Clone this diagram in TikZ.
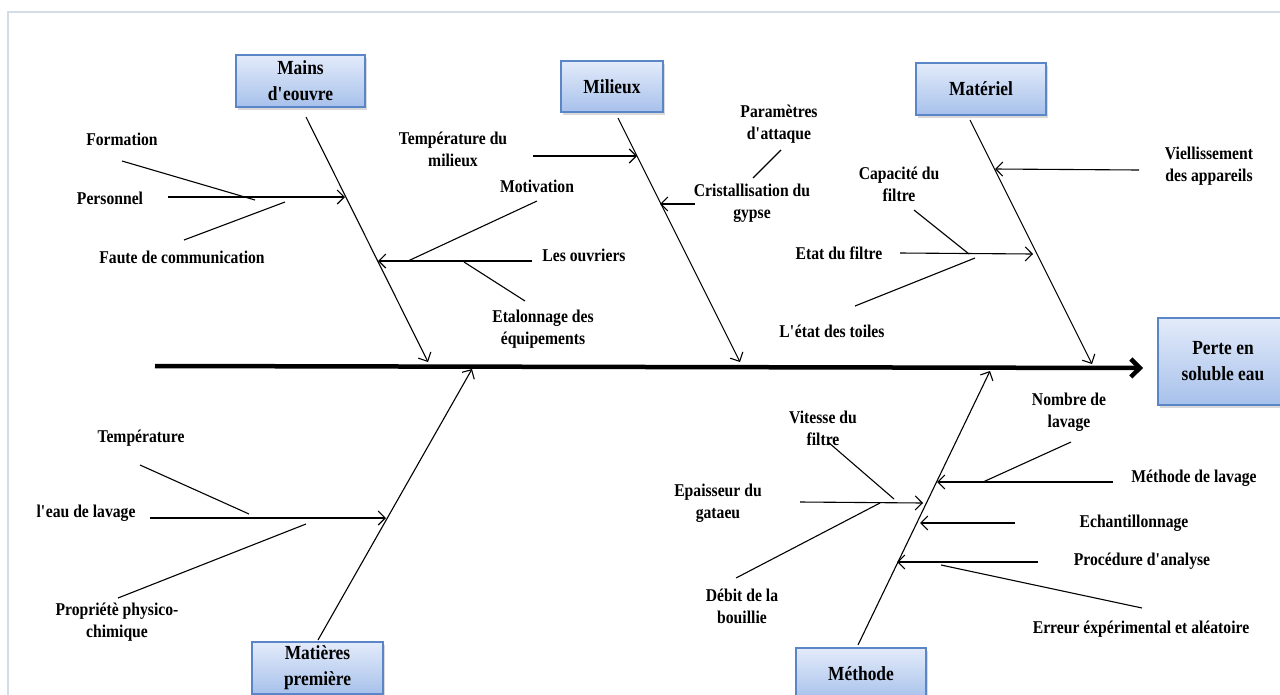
\documentclass[tikz,border=0pt]{standalone}
\usepackage{fontspec}
\setmainfont{Liberation Serif}[FakeStretch=0.87]
\usetikzlibrary{arrows.meta,shadows}

\definecolor{boxtop}{HTML}{E3EBFA}
\definecolor{boxbot}{HTML}{A7C1EB}
\definecolor{boxline}{HTML}{5A86C8}
\definecolor{framecol}{HTML}{D4DCE7}
\newcommand{\q}{\textquotesingle}

\tikzset{
  catbox/.style={draw=boxline, line width=1.2pt, top color=boxtop, bottom color=boxbot,
    minimum width=130pt, minimum height=52pt, align=center, inner sep=2pt,
    font=\fontsize{20}{26}\selectfont\bfseries,
    drop shadow={shadow xshift=2pt, shadow yshift=-3pt, opacity=0.3}},
  lbl/.style={align=center, inner sep=1pt, font=\fontsize{18}{22}\selectfont\bfseries},
  spine/.style={line width=4.5pt, -{Straight Barb[length=9pt,width=18pt]}},
  bone/.style={line width=1.1pt, -{Straight Barb[length=7pt,width=14pt]}},
  twig/.style={line width=1.1pt},
}

\begin{document}
\begin{tikzpicture}[x=1pt,y=-1pt]
\clip (0,0) rectangle (1280,694);
\draw[framecol, line width=1.2pt] (8,12) rectangle (1300,710);

% categories
\node[catbox, minimum width=129pt] (mains) at (300.5,81) {Mains\\d\q eouvre};
\node[catbox, minimum width=102pt, minimum height=51pt] (milieux) at (612,86.5) {Milieux};
\node[catbox] (materiel) at (981,89) {Matériel};
\node[catbox, minimum height=87pt] (perte) at (1223,361.5) {Perte en\\soluble eau};
\node[catbox, minimum width=131pt] (matieres) at (317.5,668) {Matières\\première};
\node[catbox] (methode) at (861,674) {Méthode};

% spine
\coordinate (tail) at (155,366);
\coordinate (head) at (1143,368);
\draw[spine] (tail) -- (head);

% main bones
\coordinate (mainsA) at (306,117);  \coordinate (mainsB) at (428,362);
\coordinate (milA) at (618,118);    \coordinate (milB) at (740,362);
\coordinate (matA) at (970,120);    \coordinate (matB) at (1092,364);
\coordinate (mpA) at (318,640);     \coordinate (mpB) at (472,369);
\coordinate (metA) at (858,645);    \coordinate (metB) at (990,371);
\draw[bone] (mainsA) -- (mainsB);
\draw[bone] (milA) -- (milB);
\draw[bone] (matA) -- (matB);
\draw[bone] (mpA) -- (mpB);
\draw[bone] (metA) -- (metB);

% Mains d'eouvre
\node[lbl] (formation) at (122,139) {Formation};
\node[lbl] (personnel) at (110,198) {Personnel};
\node[lbl] (faute) at (182,257) {Faute de communication};
\node[lbl] (motivation) at (537,186) {Motivation};
\node[lbl] (ouvriers) at (584,255) {Les ouvriers};
\node[lbl] (etalonnage) at (543,329) {Etalonnage des\\équipements};
\coordinate (persA) at (168,197);  \coordinate (persB) at (345,197);
\coordinate (formA) at (122,161);  \coordinate (formB) at (255,200);
\coordinate (fauteA) at (184,240); \coordinate (fauteB) at (285,202);
\coordinate (ouvA) at (532,261);   \coordinate (ouvB) at (378,261);
\coordinate (motA) at (537,201);   \coordinate (motB) at (408,261);
\coordinate (etaA) at (525,301);   \coordinate (etaB) at (464,262);
\draw[bone] (persA) -- (persB);
\draw[twig] (formA) -- (formB);
\draw[twig] (fauteA) -- (fauteB);
\draw[bone] (ouvA) -- (ouvB);
\draw[twig] (motA) -- (motB);
\draw[twig] (etaA) -- (etaB);

% Milieux
\node[lbl] (tempmil) at (453,149) {Température du\\milieux};
\node[lbl] (parametres) at (779,124) {Paramètres\\d\q attaque};
\node[lbl] (cristal) at (752,203) {Cristallisation du\\gypse};
\coordinate (tmA) at (533,156);    \coordinate (tmB) at (637,156);
\coordinate (crA) at (695,204);    \coordinate (crB) at (660,204);
\coordinate (paA) at (781,150);    \coordinate (paB) at (753,178);
\draw[bone] (tmA) -- (tmB);
\draw[bone] (crA) -- (crB);
\draw[twig] (paA) -- (paB);

% Matériel
\node[lbl] (viel) at (1209,166) {Viellissement\\des appareils};
\node[lbl] (capacite) at (899,184) {Capacité du\\filtre};
\node[lbl] (etat) at (839,253) {Etat du filtre};
\node[lbl] (toiles) at (832,331) {L\q état des toiles};
\coordinate (viA) at (1139,170);   \coordinate (viB) at (995,169);
\coordinate (efA) at (900,253);    \coordinate (efB) at (1033,254);
\coordinate (caA) at (914,210);    \coordinate (caB) at (969,254);
\coordinate (toA) at (855,306);    \coordinate (toB) at (975,258);
\draw[bone] (viA) -- (viB);
\draw[bone] (efA) -- (efB);
\draw[twig] (caA) -- (caB);
\draw[twig] (toA) -- (toB);

% Matières première
\node[lbl] (temperature) at (141,438) {Température};
\node[lbl] (eau) at (86,513) {l\q eau de lavage};
\node[lbl] (propriete) at (117,622) {Propriétè physico-\\chimique};
\coordinate (eauA) at (150,518);   \coordinate (eauB) at (386,518);
\coordinate (teA) at (140,465);    \coordinate (teB) at (249,514);
\coordinate (prA) at (118,598);    \coordinate (prB) at (306,524);
\draw[bone] (eauA) -- (eauB);
\draw[twig] (teA) -- (teB);
\draw[twig] (prA) -- (prB);

% Méthode
\node[lbl] (vitesse) at (823,428) {Vitesse du\\filtre};
\node[lbl] (epaisseur) at (718,503) {Epaisseur du\\gataeu};
\node[lbl] (debit) at (742,606) {Débit de la\\bouillie};
\node[lbl] (nombre) at (1069,412) {Nombre de\\lavage};
\node[lbl] (methlavage) at (1194,478) {Méthode de lavage};
\node[lbl] (echant) at (1134,523) {Echantillonnage};
\node[lbl] (procedure) at (1142,561) {Procédure d\q analyse};
\node[lbl] (erreur) at (1141,629) {Erreur éxpérimental et aléatoire};
\coordinate (epA) at (800,502);    \coordinate (epB) at (923,503);
\coordinate (viteA) at (828,442);  \coordinate (viteB) at (894,499);
\coordinate (deA) at (736,578);    \coordinate (deB) at (880,503);
\coordinate (mlA) at (1113,482);   \coordinate (mlB) at (937,482);
\coordinate (noA) at (1071,442);   \coordinate (noB) at (983,482);
\coordinate (ecA) at (1015,523);   \coordinate (ecB) at (920,523);
\coordinate (pdA) at (1038,562);   \coordinate (pdB) at (897,562);
\coordinate (erA) at (1142,608);   \coordinate (erB) at (941,565);
\draw[bone] (epA) -- (epB);
\draw[twig] (viteA) -- (viteB);
\draw[twig] (deA) -- (deB);
\draw[bone] (mlA) -- (mlB);
\draw[twig] (noA) -- (noB);
\draw[bone] (ecA) -- (ecB);
\draw[bone] (pdA) -- (pdB);
\draw[twig] (erA) -- (erB);
\end{tikzpicture}
\end{document}
